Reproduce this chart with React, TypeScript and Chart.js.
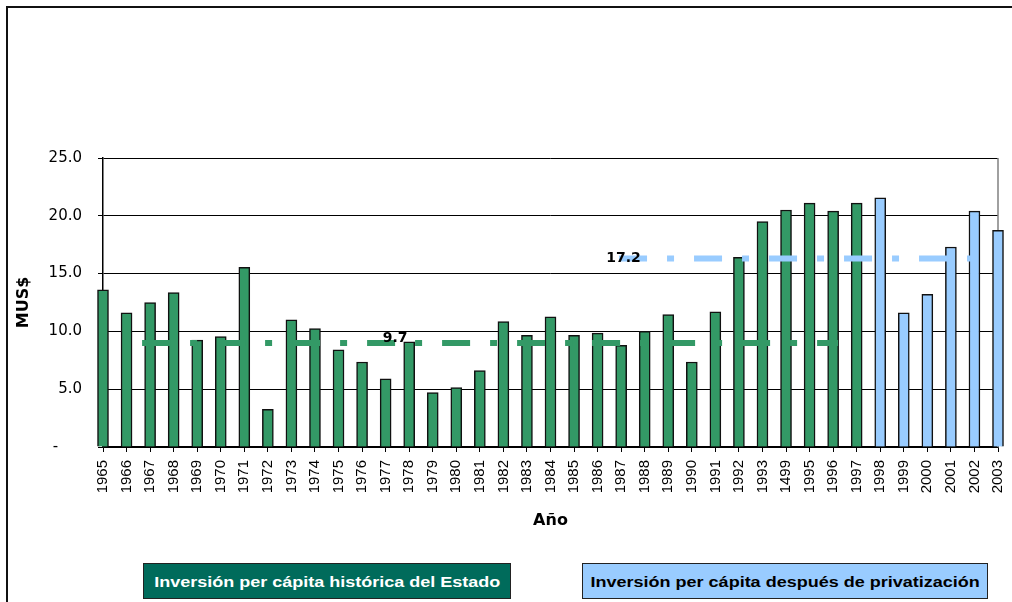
import React, { useEffect, useRef } from 'react';
import { Chart, registerables } from 'chart.js';

Chart.register(...registerables);

// ---- data ----
const years = [
  '1965', '1966', '1967', '1968', '1969', '1970', '1971', '1972', '1973', '1974',
  '1975', '1976', '1977', '1978', '1979', '1980', '1981', '1982', '1983', '1984',
  '1985', '1986', '1987', '1988', '1989', '1990', '1991', '1992', '1993', '1499',
  '1995', '1996', '1997', '1998', '1999', '2000', '2001', '2002', '2003',
];
// 1965 .. 1997 (historical state investment)
const stateValues = [
  13.6, 11.6, 12.5, 13.35, 9.25, 9.55, 15.55, 3.25, 11.0, 10.25,
  8.4, 7.35, 5.9, 9.1, 4.7, 5.15, 6.6, 10.85, 9.65, 11.25,
  9.65, 9.85, 8.8, 10.0, 11.45, 7.35, 11.7, 16.4, 19.5, 20.5,
  21.1, 20.4, 21.1,
];
// 1998 .. 2003 (after privatization)
const privateValues = [21.55, 11.6, 13.2, 17.3, 20.4, 18.75];

const yTicks = [0, 5, 10, 15, 20, 25];

// average lines (category-index units on a hidden linear axis)
const avgLabels = ['9.7', '17.2'];
const avgLevels = [9.0, 16.3];
const avgStarts = [1.66, 21.91];
const avgEnds = [31.21, 36.85];
const avgLabelX = [12.4, 22.1];
const avgLabelY = [9.1, 16.0];

const legendLabels = [
  'Inversión per cápita histórica del Estado',
  'Inversión per cápita después de privatización',
];

const GREEN = '#339966';
const BLUE = '#99CCFF';

export default function App() {
  const ref = useRef<HTMLCanvasElement>(null);

  useEffect(() => {
    if (!ref.current) return;
    const n = years.length;
    const offsetPriv = n - privateValues.length;
    const stateData = years.map((_, i) => (i < stateValues.length ? stateValues[i] : null));
    const privData = years.map((_, i) => (i >= offsetPriv ? privateValues[i - offsetPriv] : null));

    const framePlugin = {
      id: 'frameRight',
      beforeDatasetsDraw(chart: any) {
        const { ctx, chartArea } = chart;
        ctx.save();
        ctx.strokeStyle = '#808080';
        ctx.lineWidth = 1.5;
        ctx.beginPath();
        ctx.moveTo(chartArea.right, chartArea.top);
        ctx.lineTo(chartArea.right, chartArea.bottom);
        ctx.stroke();
        ctx.restore();
      },
    };

    const labelPlugin = {
      id: 'avgLabels',
      afterDatasetsDraw(chart: any) {
        const { ctx } = chart;
        const xs = chart.scales.xl;
        const ys = chart.scales.y;
        ctx.save();
        ctx.font = 'bold 14px "DejaVu Sans"';
        ctx.textAlign = 'center';
        ctx.textBaseline = 'alphabetic';
        ctx.fillStyle = '#000';
        avgLabels.forEach((t, i) => {
          ctx.fillText(t, xs.getPixelForValue(avgLabelX[i]), ys.getPixelForValue(avgLabelY[i]));
        });
        ctx.restore();
      },
    };

    const lineColors = [GREEN, BLUE];
    const lineDatasets = avgLabels.map((t, i) => ({
      type: 'line' as const,
      label: 'Promedio ' + t,
      xAxisID: 'xl',
      yAxisID: 'y',
      data: [
        { x: avgStarts[i], y: avgLevels[i] },
        { x: avgEnds[i], y: avgLevels[i] },
      ],
      borderColor: lineColors[i],
      borderWidth: 6,
      borderDash: [28, 20, 7, 20],
      borderCapStyle: 'butt' as const,
      pointRadius: 0,
      fill: false,
      clip: false as any,
      order: 0,
    }));

    const chart = new Chart(ref.current, {
      type: 'bar',
      data: {
        labels: years,
        datasets: [
          {
            label: legendLabels[0],
            data: stateData as any,
            backgroundColor: GREEN,
            borderColor: '#111',
            borderWidth: 1.5,
            barThickness: 11,
            grouped: false,
            clip: false as any,
            order: 1,
          },
          {
            label: legendLabels[1],
            data: privData as any,
            backgroundColor: BLUE,
            borderColor: '#111',
            borderWidth: 1.5,
            barThickness: 11,
            grouped: false,
            clip: false as any,
            order: 1,
          },
          ...(lineDatasets as any[]),
        ],
      },
      options: {
        responsive: false,
        animation: false,
        devicePixelRatio: 1,
        layout: { padding: { top: 158, right: 14, bottom: 70, left: 0 } },
        plugins: {
          legend: { display: false },
          tooltip: { enabled: false },
        },
        scales: {
          x: {
            type: 'category',
            offset: false,
            grid: {
              display: true,
              offset: false,
              drawOnChartArea: false,
              drawTicks: true,
              tickLength: 5,
              color: '#000',
              lineWidth: 1,
            },
            border: { display: true, color: '#000', width: 1.5 },
            ticks: {
              autoSkip: false,
              maxRotation: 90,
              minRotation: 90,
              padding: 8,
              color: '#000',
              font: { family: '"Liberation Sans", Arial, sans-serif', size: 15 },
            },
            title: {
              display: true,
              text: 'Año',
              color: '#000',
              font: { family: '"DejaVu Sans", sans-serif', size: 16, weight: 'bold' },
              padding: { top: 0, bottom: 2 },
            },
            afterFit(scale: any) {
              scale.height = 85;
              scale.paddingLeft = 0;
              scale.paddingRight = 0;
            },
          },
          xl: {
            type: 'linear',
            display: false,
            offset: false,
            grid: { offset: false },
            min: 0,
            max: years.length - 1,
          },
          y: {
            type: 'linear',
            position: 'left',
            min: yTicks[0],
            max: yTicks[yTicks.length - 1],
            afterBuildTicks(scale: any) {
              scale.ticks = yTicks.map((v) => ({ value: v }));
            },
            grid: {
              color: '#000',
              lineWidth: 1,
              tickLength: 5,
              drawTicks: true,
            },
            border: { display: true, color: '#000', width: 1.5 },
            ticks: {
              padding: 16,
              color: '#000',
              font: { family: '"DejaVu Sans", sans-serif', size: 15 },
              callback: (v: any) => (Number(v) === 0 ? '-     ' : Number(v).toFixed(1)),
            },
            title: {
              display: true,
              text: 'MUS$',
              color: '#000',
              font: { family: '"DejaVu Sans", sans-serif', size: 16, weight: 'bold' },
              padding: { top: 14, bottom: 0 },
            },
            afterFit(scale: any) {
              scale.width = 103;
              scale.paddingTop = 0;
              scale.paddingBottom = 0;
            },
          },
        },
      } as any,
      plugins: [framePlugin, labelPlugin],
    });

    return () => chart.destroy();
  }, []);

  const boxBase: React.CSSProperties = {
    position: 'absolute',
    top: 563,
    height: 36,
    boxSizing: 'border-box',
    border: '1.5px solid #222',
    display: 'flex',
    alignItems: 'center',
    justifyContent: 'center',
    fontFamily: '"Liberation Sans", Arial, sans-serif',
    fontWeight: 'bold',
    fontSize: 15,
    whiteSpace: 'nowrap',
  };

  return (
    <div
      style={{
        position: 'fixed',
        left: 0,
        top: 0,
        width: 1012,
        height: 602,
        background: '#fff',
        overflow: 'hidden',
      }}
    >
      <canvas ref={ref} width={1012} height={602} style={{ position: 'absolute', left: 0, top: 0, width: 1012, height: 602 }} />
      <div
        style={{
          position: 'absolute',
          left: 6,
          top: 6,
          width: 1020,
          height: 620,
          borderLeft: '2px solid #111',
          borderTop: '2px solid #111',
          pointerEvents: 'none',
        }}
      />
      <div style={{ ...boxBase, left: 143, width: 368, background: '#006B5B', color: '#fff' }}>
        <span style={{ display: 'inline-block', transform: 'scaleX(1.2)' }}>{legendLabels[0]}</span>
      </div>
      <div style={{ ...boxBase, left: 582, width: 406, background: BLUE, color: '#000' }}>
        <span style={{ display: 'inline-block', transform: 'scaleX(1.2)' }}>{legendLabels[1]}</span>
      </div>
    </div>
  );
}
